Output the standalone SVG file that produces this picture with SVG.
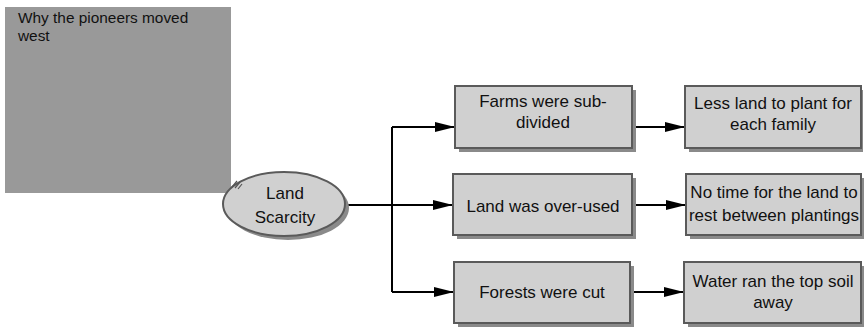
<svg xmlns="http://www.w3.org/2000/svg" width="864" height="328" viewBox="0 0 864 328">
  <defs>
    <style>
      .note { fill: #999999; }
      .shadow { fill: #8a8a8a; }
      .box { fill: #d0d0d0; stroke: #5a5a5a; stroke-width: 2; }
      .lbl { font-family: "Liberation Sans", Arial, sans-serif; font-size: 17px; fill: #111; text-anchor: middle; }
      .title { font-family: "Liberation Sans", Arial, sans-serif; font-size: 15.4px; fill: #111; }
      .wire { fill: none; stroke: #000; stroke-width: 2; }
    </style>
    <marker id="arrow" viewBox="0 0 20 10" refX="20" refY="5" markerWidth="20" markerHeight="10" markerUnits="userSpaceOnUse" orient="auto">
      <path d="M0,0 L20,5 L0,10 Z" fill="#000"/>
    </marker>
  </defs>

  <!-- title note -->
  <g id="note">
    <rect class="note" x="5" y="7" width="226" height="186"/>
    <text class="title" x="18" y="23">Why the pioneers moved</text>
    <text class="title" x="18" y="41">west</text>
  </g>

  <!-- connectors -->
  <g id="connectors">
    <path class="wire" d="M346,205 H392"/>
    <path class="wire" d="M392,127 V292"/>
    <path class="wire" d="M392,127 H455" marker-end="url(#arrow)"/>
    <path class="wire" d="M392,205 H453" marker-end="url(#arrow)"/>
    <path class="wire" d="M392,292 H454" marker-end="url(#arrow)"/>
    <path class="wire" d="M632,127 H685" marker-end="url(#arrow)"/>
    <path class="wire" d="M632,205 H686" marker-end="url(#arrow)"/>
    <path class="wire" d="M630,292 H684" marker-end="url(#arrow)"/>
  </g>

  <!-- central idea -->
  <g id="land-scarcity">
    <ellipse class="shadow" cx="288" cy="208" rx="61" ry="32"/>
    <ellipse class="box" cx="284" cy="204" rx="61" ry="32"/>
    <g stroke="#555" stroke-width="1.2">
      <path d="M232,187 L237,181 M235,188 L240,182 M238,189 L242,184"/>
    </g>
    <text class="lbl" x="285" y="199">Land</text>
    <text class="lbl" x="285" y="223">Scarcity</text>
  </g>

  <g id="farms">
    <rect class="shadow" x="459" y="90" width="177" height="62"/>
    <rect class="box" x="455" y="86" width="177" height="62"/>
    <text class="lbl" x="543" y="107">Farms were sub-</text>
    <text class="lbl" x="543" y="128">divided</text>
  </g>

  <g id="less-land">
    <rect class="shadow" x="689" y="90" width="174" height="62"/>
    <rect class="box" x="685" y="86" width="176" height="62"/>
    <text class="lbl" x="773" y="109">Less land to plant for</text>
    <text class="lbl" x="773" y="130">each family</text>
  </g>

  <g id="over-used">
    <rect class="shadow" x="457" y="178" width="179" height="61"/>
    <rect class="box" x="453" y="174" width="179" height="61"/>
    <text class="lbl" x="543" y="212">Land was over-used</text>
  </g>

  <g id="no-time">
    <rect class="shadow" x="690" y="178" width="174" height="61"/>
    <rect class="box" x="686" y="174" width="175" height="61"/>
    <text class="lbl" x="774" y="198">No time for the land to</text>
    <text class="lbl" x="774" y="221">rest between plantings</text>
  </g>

  <g id="forests">
    <rect class="shadow" x="458" y="266" width="176" height="61"/>
    <rect class="box" x="454" y="262" width="176" height="61"/>
    <text class="lbl" x="542" y="298">Forests were cut</text>
  </g>

  <g id="water">
    <rect class="shadow" x="688" y="266" width="176" height="61"/>
    <rect class="box" x="684" y="262" width="177" height="61"/>
    <text class="lbl" x="773" y="287">Water ran the top soil</text>
    <text class="lbl" x="773" y="308">away</text>
  </g>
</svg>
